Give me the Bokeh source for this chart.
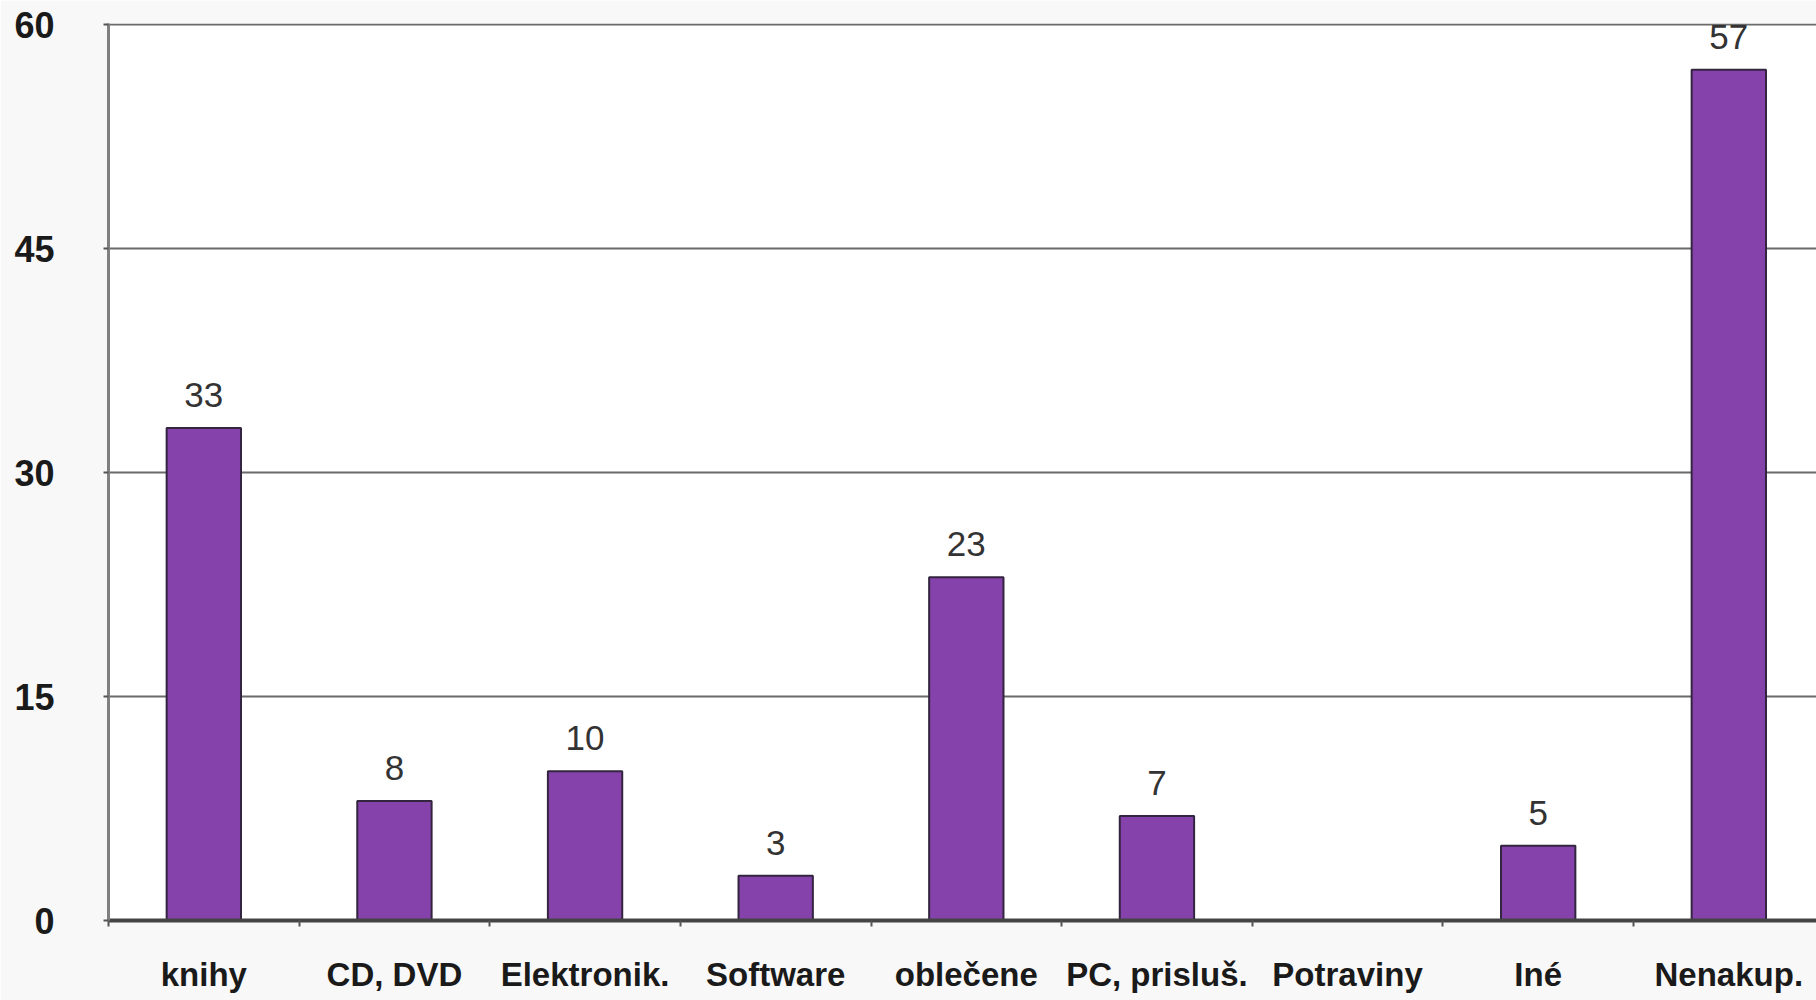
from bokeh.plotting import figure
from bokeh.models import Range1d, FixedTicker, ColumnDataSource
from bokeh.core.properties import value
from bokeh.embed import file_html
from bokeh.resources import INLINE
import numpy as np

categories = ["knihy", "CD, DVD", "Elektronik.", "Software", "oblečene",
              "PC, prisluš.", "Potraviny", "Iné", "Nenakup."]
values = [33, 8, 10, 3, 23, 7, None, 5, 57]
y_ticks = [0, 15, 30, 45, 60]

pos = np.arange(len(categories)) + 0.5
bar_vals = [v if v is not None else 0 for v in values]
lab_pos = [p for p, v in zip(pos, values) if v is not None]
lab_vals = [v for v in values if v is not None]
lab_txt = [str(v) for v in lab_vals]

p = figure(width=1816, height=1000, output_backend="svg", toolbar_location=None,
           x_range=Range1d(0, 8.96), y_range=Range1d(0, 60.1),
           min_border_left=108, min_border_top=23, min_border_bottom=80,
           min_border_right=0)
p.background_fill_color = "white"
p.border_fill_color = "#f8f8f8"
p.outline_line_color = None

p.xgrid.grid_line_color = None
p.ygrid.grid_line_color = "#6a6a6a"
p.ygrid.grid_line_width = 2
p.yaxis.ticker = FixedTicker(ticks=y_ticks)

src = ColumnDataSource(dict(x=pos, top=bar_vals))
p.vbar(x="x", top="top", width=0.39, source=src, fill_color="#8442aa",
       line_color="#33243f", line_width=2)

lsrc = ColumnDataSource(dict(x=lab_pos, y=lab_vals, t=lab_txt))
p.text(x="x", y="y", text="t", source=lsrc, text_align="center",
       text_baseline="alphabetic", y_offset=-33,
       text_font=value("Liberation Sans"), text_font_size="35px",
       text_color="#333333")

xa = p.xaxis[0]
xa.ticker = FixedTicker(ticks=list(pos), minor_ticks=list(range(0, len(categories) + 1)))
xa.major_label_overrides = {float(p_): c for p_, c in zip(pos, categories)}
xa.major_tick_line_color = None
xa.minor_tick_line_color = "#555555"
xa.minor_tick_line_width = 2
xa.minor_tick_out = 6
xa.minor_tick_in = 0
xa.axis_line_color = "#444444"
xa.axis_line_width = 4
xa.major_label_text_font = "Liberation Sans"
xa.major_label_text_font_style = "bold"
xa.major_label_text_font_size = "33px"
xa.major_label_text_color = "#1a1a1a"
xa.major_label_standoff = 29

ya = p.yaxis[0]
ya.axis_line_color = "#808080"
ya.axis_line_width = 3
ya.major_tick_line_color = "#555555"
ya.major_tick_line_width = 2
ya.major_tick_out = 5
ya.major_tick_in = 0
ya.minor_tick_line_color = None
ya.major_label_text_font = "Liberation Sans"
ya.major_label_text_font_style = "bold"
ya.major_label_text_font_size = "36px"
ya.major_label_text_color = "#1a1a1a"
ya.major_label_standoff = 49

open("out.html", "w").write(file_html(p, INLINE))
